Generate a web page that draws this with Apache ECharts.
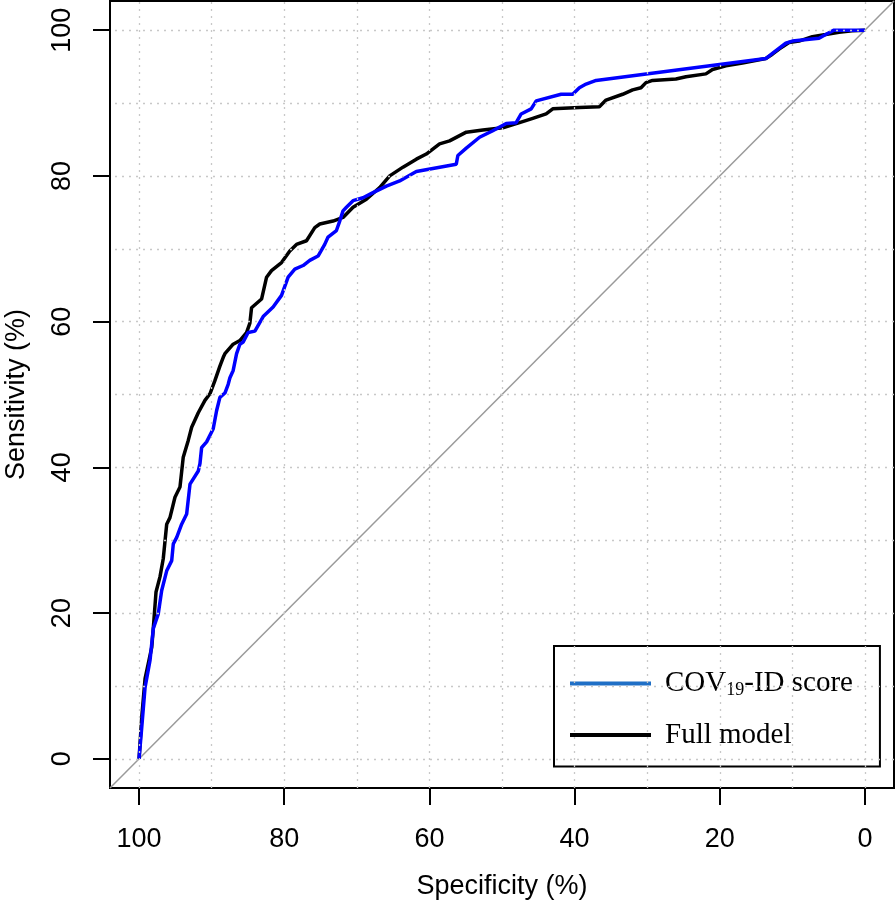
<!DOCTYPE html>
<html><head><meta charset="utf-8">
<script src="https://cdn.jsdelivr.net/npm/echarts@6/dist/echarts.min.js"></script>
<style>html,body{margin:0;padding:0;background:#fff}#c{width:896px;height:903px}</style>
</head><body><div id="c"></div>
<script>
// ---- data ----
const tickValues = [0, 20, 40, 60, 80, 100];
const gridValues = [0, 10, 20, 30, 40, 50, 60, 70, 80, 90, 100];
const seriesNames = ['COV19-ID score', 'Full model'];

const covSpec = [100, 99.63, 99.17, 98.49, 98.03, 97.35, 96.88, 96.19, 95.50, 95.28, 94.81, 94.13, 93.44, 92.98, 91.84, 91.61, 91.38, 90.69, 89.78, 89.31, 88.86, 88.17, 87.72, 87.48, 87.03, 86.56, 86.11, 85.65, 84.97, 84.04, 82.90, 81.53, 80.37, 79.46, 78.54, 77.40, 76.48, 75.34, 74.42, 73.96, 72.81, 72.35, 71.90, 71.43, 70.52, 69.15, 67.77, 65.93, 64.10, 61.80, 56.30, 56.08, 54.92, 53.09, 51.27, 49.42, 48.05, 47.36, 45.98, 45.29, 41.86, 40.26, 39.34, 38.42, 37.04, 13.66, 12.75, 10.91, 10.00, 6.33, 5.41, 4.26, 0];
const covSens = [0, 4.3, 9.8, 13.5, 17.9, 19.9, 23.1, 25.8, 27.2, 29.5, 30.4, 32.2, 33.6, 37.7, 39.5, 40.5, 42.7, 43.5, 45.3, 47.8, 49.6, 50.2, 51.4, 52.3, 53.3, 55.6, 56.9, 57.2, 58.5, 58.7, 60.7, 62.0, 63.6, 66.1, 67.2, 67.7, 68.4, 69.0, 70.6, 71.6, 72.5, 73.8, 75.2, 75.7, 76.6, 77.0, 77.7, 78.6, 79.3, 80.6, 81.6, 82.8, 83.8, 85.3, 86.2, 87.2, 87.3, 88.5, 89.2, 90.3, 91.2, 91.2, 92.1, 92.6, 93.1, 96.1, 96.8, 98.2, 98.5, 98.9, 99.4, 100, 100];

const fullSpec = [100, 99.63, 99.17, 98.25, 98.03, 97.66, 97.11, 96.66, 96.19, 95.74, 95.05, 94.36, 93.91, 93.22, 92.75, 91.84, 90.92, 90.23, 89.55, 88.86, 88.40, 88.17, 87.03, 86.11, 85.19, 84.73, 84.50, 83.12, 82.43, 81.75, 80.37, 79.23, 78.31, 76.93, 75.79, 75.10, 73.27, 71.90, 70.52, 68.68, 66.85, 65.47, 63.64, 61.80, 60.43, 58.60, 57.22, 54.92, 52.64, 49.89, 47.59, 45.76, 43.92, 43.01, 39.34, 36.59, 35.67, 33.38, 32.01, 30.85, 30.17, 29.26, 26.04, 24.66, 21.91, 21.00, 19.16, 16.88, 13.66, 12.75, 11.83, 10.46, 9.08, 7.25, 5.41, 3.58, 1.75, 0];
const fullSens = [0, 5.7, 11.0, 15.3, 18.0, 22.9, 25.0, 27.5, 32.2, 33.1, 35.9, 37.3, 41.4, 43.7, 45.5, 47.5, 49.2, 50.1, 51.9, 53.9, 55.1, 55.6, 56.9, 57.4, 58.5, 59.8, 61.9, 63.1, 66.1, 67.0, 68.1, 69.7, 70.6, 71.1, 72.9, 73.4, 73.8, 74.3, 75.7, 76.8, 78.4, 80.0, 81.2, 82.3, 83.0, 84.4, 84.8, 86.0, 86.3, 86.6, 87.3, 87.9, 88.5, 89.2, 89.4, 89.5, 90.4, 91.2, 91.8, 92.1, 92.8, 93.1, 93.3, 93.6, 94.0, 94.6, 95.1, 95.5, 96.1, 96.7, 97.4, 98.3, 98.5, 99.1, 99.4, 99.7, 99.9, 100];

const diagSpec = [104, -4];
const diagSens = [-4, 104];

// ---- chart ----
const zip = (a, b) => a.map((v, i) => [v, b[i]]);
const chart = echarts.init(document.getElementById('c'), null, {renderer: 'canvas'});
const sans = 'Liberation Sans, Arial, Helvetica, sans-serif';
const serif = 'Liberation Serif, Times New Roman, serif';

chart.setOption({
  animation: false,
  backgroundColor: '#ffffff',
  grid: {left: 110, right: 2, top: 1, bottom: 115, show: true, borderColor: '#000', borderWidth: 2,
         backgroundColor: 'transparent', containLabel: false, outerBoundsMode: 'none'},
  xAxis: {
    type: 'value', min: -4, max: 104, inverse: true,
    name: 'Specificity (%)', nameLocation: 'middle', nameGap: 85,
    nameTextStyle: {fontFamily: sans, fontSize: 27, color: '#000'},
    axisLine: {show: false, onZero: false},
    axisTick: {show: true, inside: false, customValues: tickValues, length: 17, lineStyle: {color: '#000', width: 2}},
    axisLabel: {customValues: tickValues, margin: 38, fontFamily: sans, fontSize: 27, color: '#000'},
    splitLine: {show: false}
  },
  yAxis: {
    type: 'value', min: -4, max: 104,
    name: 'Sensitivity (%)', nameLocation: 'middle', nameGap: 80,
    nameTextStyle: {fontFamily: sans, fontSize: 27, color: '#000'},
    axisLine: {show: false, onZero: false},
    axisTick: {show: true, inside: false, customValues: tickValues, length: 17, lineStyle: {color: '#000', width: 2}},
    axisLabel: {customValues: tickValues, margin: 34, rotate: 90, fontFamily: sans, fontSize: 27, color: '#000'},
    splitLine: {show: false}
  },
  legend: {
    orient: 'vertical', left: 554, top: 646,
    padding: [23, 27, 17, 16], itemGap: 21,
    itemWidth: 81, itemHeight: 4,
    backgroundColor: '#fff', borderColor: '#000', borderWidth: 2, borderRadius: 0,
    selectedMode: false,
    data: [
      {name: seriesNames[0], icon: 'rect', itemStyle: {color: '#1f6fc6'}},
      {name: seriesNames[1], icon: 'rect', itemStyle: {color: '#000'}}
    ],
    formatter: function (name) {
      return name === seriesNames[0] ? '{a|COV}{s|19}{a|-ID score}' : '{a|Full model}';
    },
    textStyle: {
      padding: [0, 0, 0, 9],
      rich: {
        a: {fontFamily: serif, fontSize: 29, color: '#000', lineHeight: 32},
        s: {fontFamily: serif, fontSize: 18, color: '#000', lineHeight: 14, verticalAlign: 'bottom'}
      }
    }
  },
  series: [
    {
      name: 'grid', type: 'line', data: [], z: 1, silent: true,
      markLine: {
        silent: true, symbol: ['none', 'none'], label: {show: false},
        lineStyle: {color: '#c8c8c8', width: 1.3, type: [2, 5]},
        emphasis: {disabled: true},
        data: gridValues.map(v => ({xAxis: v})).concat(gridValues.map(v => ({yAxis: v})))
      }
    },
    {
      name: 'diagonal', type: 'line', data: zip(diagSpec, diagSens), z: 2, silent: true,
      symbol: 'none', lineStyle: {color: '#9a9a9a', width: 1.5}
    },
    {
      name: seriesNames[1], type: 'line', data: zip(fullSpec, fullSens), z: 3,
      symbol: 'none', color: '#000', lineStyle: {color: '#000', width: 3.5}
    },
    {
      name: seriesNames[0], type: 'line', data: zip(covSpec, covSens), z: 4,
      symbol: 'none', color: '#0000ff', lineStyle: {color: '#0000ff', width: 3.5}
    }
  ]
});
</script>
</body></html>
